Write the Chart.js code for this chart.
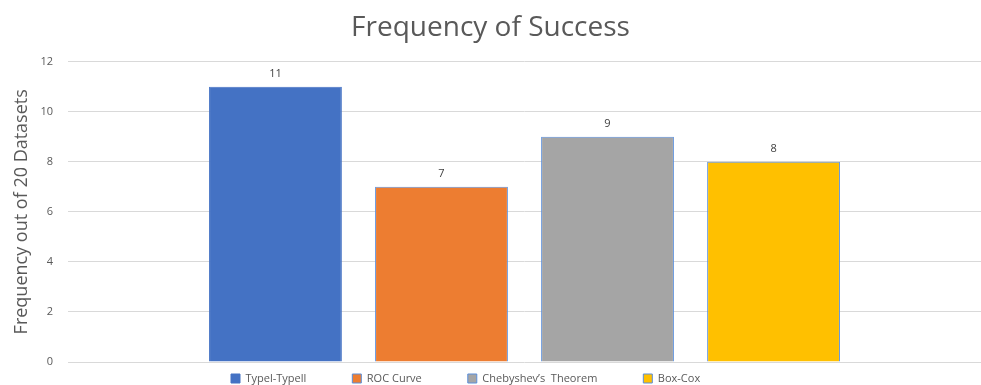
<!DOCTYPE html>
<html>
<head>
<meta charset="utf-8">
<script src="https://cdn.jsdelivr.net/npm/chart.js@4.4.1/dist/chart.umd.min.js"></script>
<style>
  html, body { margin: 0; padding: 0; background: #ffffff; }
  #wrap { width: 981px; height: 385px; position: relative; }
</style>
</head>
<body>
<div id="wrap"><canvas id="chart"></canvas></div>
<script>
// Methods compared and how often each succeeded (out of 20 datasets)
const methods = ['Typel-Typell', 'ROC Curve', 'Chebyshev\u2019s  Theorem', 'Box-Cox'];
const successCounts = [11, 7, 9, 8];
const fillColors = ['#4472C4', '#ED7D31', '#A5A5A5', '#FFC000'];
const edgeColors = ['#4472C4', '#5B8FDB', '#5B8FDB', '#5B8FDB'];
const yTicks = { min: 0, max: 12, step: 2 };

const FONT = "'Open Sans', 'Noto Sans', sans-serif";

// value printed above each bar
const barValueLabels = {
  id: 'barValueLabels',
  afterDatasetsDraw(chart) {
    const ctx = chart.ctx;
    ctx.save();
    ctx.font = '11px ' + FONT;
    ctx.fillStyle = '#404040';
    ctx.textAlign = 'center';
    ctx.textBaseline = 'middle';
    chart.data.datasets.forEach((ds, i) => {
      const meta = chart.getDatasetMeta(i);
      meta.data.forEach((bar, j) => {
        ctx.fillText(String(ds.data[j]), bar.x, bar.y - 13);
      });
    });
    ctx.restore();
  }
};

// place the legend row just under the axis, starting below the first bar
const legendPlacement = {
  id: 'legendPlacement',
  afterLayout(chart) {
    const lg = chart.legend;
    if (!lg) return;
    const pad = lg.options.labels.padding;
    const w = lg.right - lg.left;
    lg.left = 231 - pad;
    lg.right = lg.left + w;
    lg.top = 373 - pad;
  }
};

new Chart(document.getElementById('chart'), {
  type: 'bar',
  data: {
    labels: [''],
    datasets: methods.map((name, i) => ({
      label: name,
      data: [successCounts[i]],
      backgroundColor: fillColors[i],
      borderColor: edgeColors[i],
      borderWidth: 1,
      categoryPercentage: 0.7274,
      barPercentage: 0.8
    }))
  },
  options: {
    responsive: true,
    maintainAspectRatio: false,
    animation: false,
    layout: { padding: { left: 0, right: 0 } },
    plugins: {
      title: {
        display: true,
        text: 'Frequency of Success',
        color: '#595959',
        font: { family: FONT, size: 28, weight: 'normal' },
        padding: { top: 11, bottom: 17 }
      },
      legend: {
        display: true,
        position: 'bottom',
        align: 'start',
        maxHeight: 23,
        labels: {
          boxWidth: 9,
          boxHeight: 9,
          padding: 46,
          color: '#595959',
          font: { family: FONT, size: 11 }
        }
      },
      tooltip: { enabled: false }
    },
    scales: {
      x: {
        display: false,
        grid: { display: false }
      },
      y: {
        min: yTicks.min,
        max: yTicks.max,
        afterFit(scale) { scale.width = 68; },
        ticks: {
          stepSize: yTicks.step,
          color: '#595959',
          padding: 15,
          font: { family: FONT, size: 11 }
        },
        grid: { color: '#D9D9D9', drawTicks: false },
        border: { display: false },
        title: {
          display: true,
          text: 'Frequency out of 20 Datasets',
          color: '#595959',
          font: { family: FONT, size: 18 },
          padding: { top: 11, bottom: 0 }
        }
      }
    }
  },
  plugins: [barValueLabels, legendPlacement]
});
</script>
</body>
</html>
